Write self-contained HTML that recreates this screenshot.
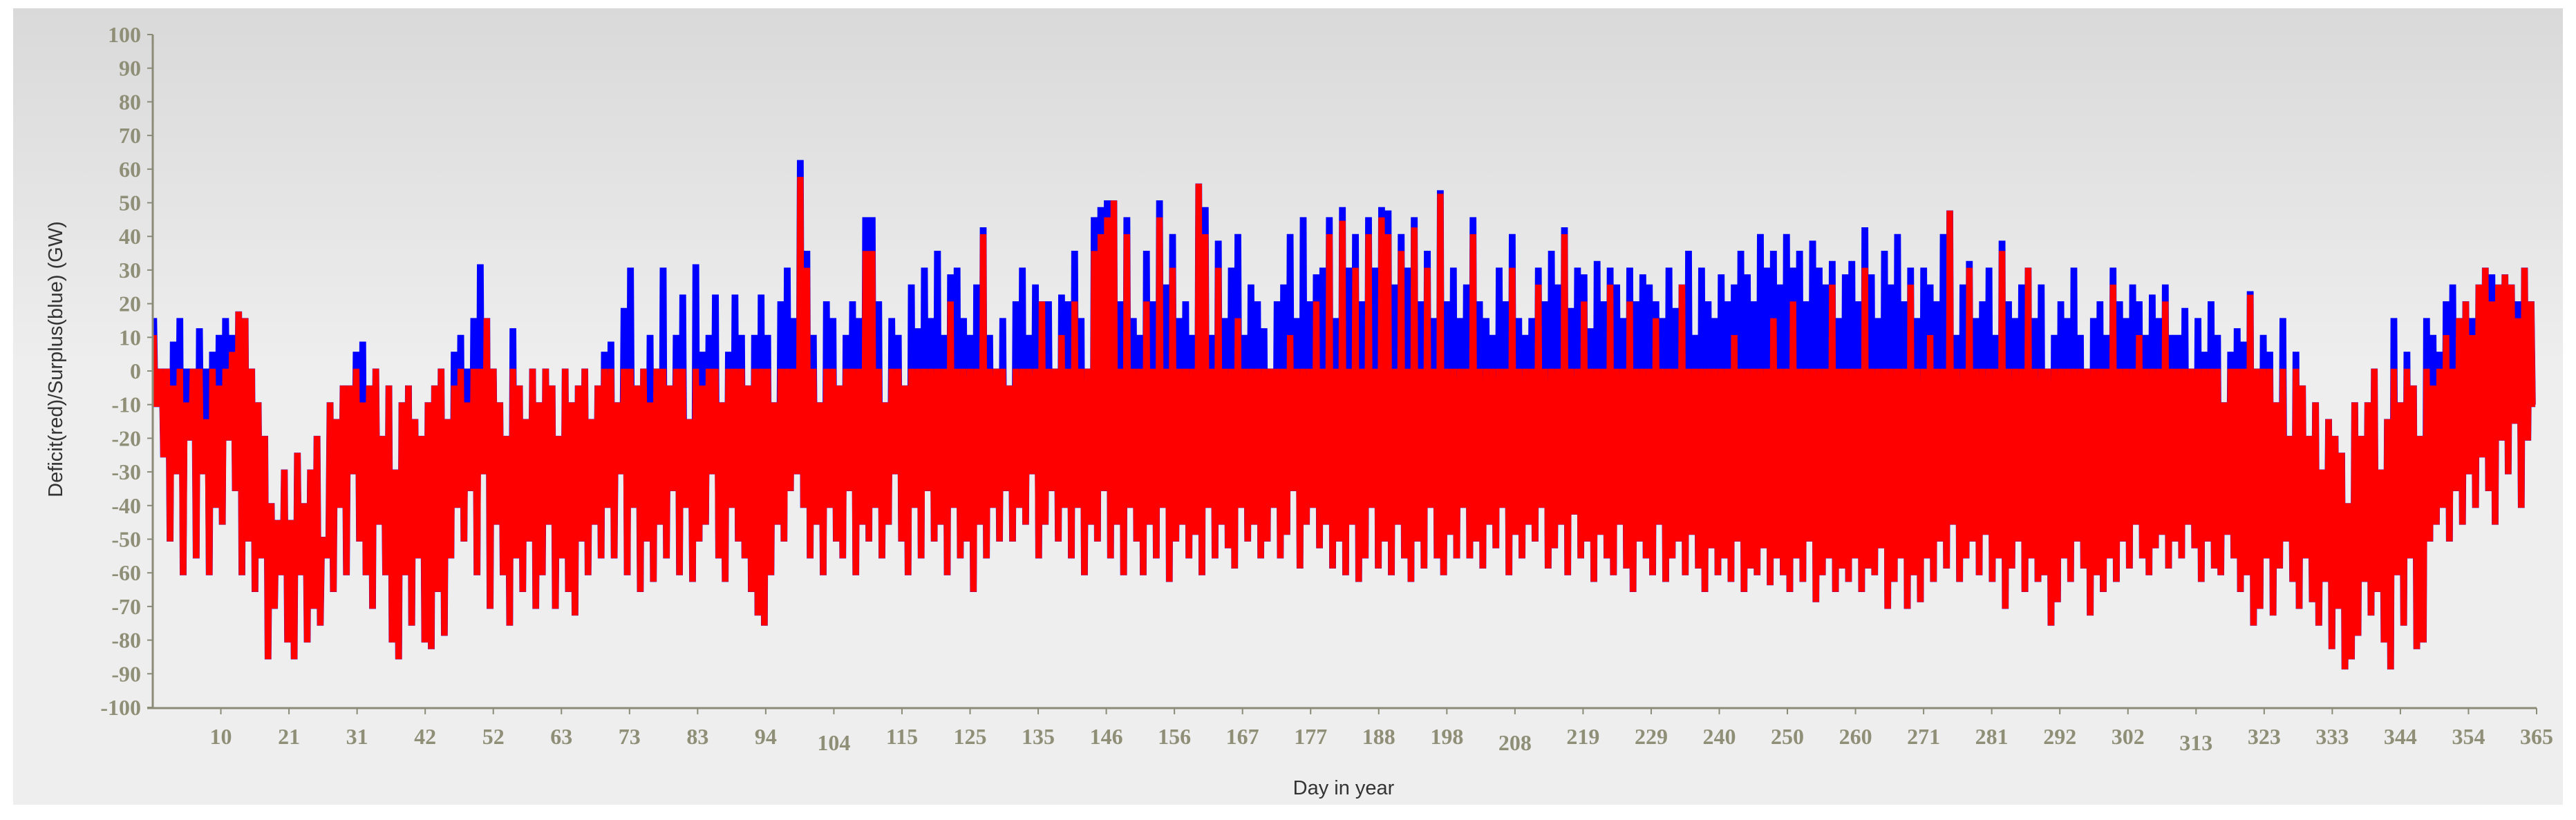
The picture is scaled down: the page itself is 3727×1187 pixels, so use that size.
<!DOCTYPE html>
<html><head><meta charset="utf-8"><style>
html,body{margin:0;padding:0;background:#fff;}
#wrap{position:relative;width:3727px;height:1187px;overflow:hidden;background:#fff;}
svg{position:absolute;left:0;top:0;}
</style></head><body>
<div id="wrap">
<svg id="chart" width="3727" height="1187" xmlns="http://www.w3.org/2000/svg">
<defs><linearGradient id="bg" x1="0" y1="0" x2="0" y2="1">
<stop offset="0" stop-color="#d9d9d9"/><stop offset="0.45" stop-color="#eeeeee"/><stop offset="1" stop-color="#eeeeee"/></linearGradient></defs>
<rect x="19" y="12" width="3689" height="1153" fill="url(#bg)"/>
<g id="series"></g>
<g id="axes"></g>
<text x="90" y="520" transform="rotate(-90 90 520)" text-anchor="middle" font-family="Liberation Sans, sans-serif" font-size="29" fill="#333">Deficit(red)/Surplus(blue) (GW)</text>
<text x="1944" y="1150" text-anchor="middle" font-family="Liberation Sans, sans-serif" font-size="29" fill="#333">Day in year</text>
</svg></div>
<script>
const xTickLabels=["10","21","31","42","52","63","73","83","94","104","115","125","135","146","156","167","177","188","198","208","219","229","240","250","260","271","281","292","302","313","323","333","344","354","365"];
const yTickValues=[100,90,80,70,60,50,40,30,20,10,0,-10,-20,-30,-40,-50,-60,-70,-80,-90,-100];
const dailyLow=[-10,-25,-50,-30,-60,-20,-55,-30,-60,-40,
-45,-20,-35,-60,-50,-65,-55,-85,-70,-60,
-80,-85,-60,-80,-70,-75,-55,-65,-40,-60,
-30,-50,-60,-70,-45,-60,-80,-85,-60,-75,
-55,-80,-82,-65,-78,-55,-40,-50,-35,-60,
-30,-70,-45,-60,-75,-55,-65,-50,-70,-60,
-45,-70,-55,-65,-72,-50,-60,-45,-55,-40,
-55,-30,-60,-40,-65,-50,-62,-45,-55,-35,
-60,-40,-62,-50,-45,-30,-55,-62,-40,-50,
-55,-65,-72,-75,-60,-45,-50,-35,-30,-40,
-55,-45,-60,-40,-50,-55,-35,-60,-45,-50,
-40,-55,-45,-30,-50,-60,-40,-55,-35,-50,
-45,-60,-40,-55,-50,-65,-45,-55,-40,-50,
-35,-50,-40,-45,-30,-55,-45,-35,-50,-40,
-55,-40,-60,-45,-50,-35,-55,-45,-60,-40,
-50,-60,-45,-55,-40,-62,-50,-45,-55,-48,
-60,-40,-55,-45,-52,-58,-40,-50,-45,-55,
-50,-40,-55,-48,-35,-58,-45,-40,-52,-45,
-58,-50,-60,-45,-62,-55,-40,-58,-50,-60,
-45,-55,-62,-50,-58,-40,-55,-60,-48,-55,
-40,-55,-50,-58,-45,-52,-40,-60,-48,-55,
-45,-50,-40,-58,-52,-45,-60,-42,-55,-50,
-62,-48,-55,-60,-45,-58,-65,-50,-55,-60,
-45,-62,-55,-50,-60,-48,-58,-65,-52,-60,
-55,-62,-50,-65,-58,-60,-52,-63,-55,-60,
-65,-55,-62,-50,-68,-60,-55,-65,-58,-62,
-55,-65,-58,-60,-52,-70,-62,-55,-70,-60,
-68,-55,-62,-50,-58,-45,-62,-55,-50,-60,
-48,-62,-55,-70,-58,-50,-65,-55,-62,-60,
-75,-68,-55,-62,-50,-58,-72,-60,-65,-55,
-62,-50,-58,-45,-55,-60,-52,-48,-58,-50,
-55,-45,-52,-62,-50,-58,-60,-48,-55,-65,
-60,-75,-70,-55,-72,-58,-50,-62,-70,-55,
-68,-75,-62,-82,-70,-88,-85,-78,-62,-72,
-65,-80,-88,-60,-75,-55,-82,-80,-50,-45,
-40,-50,-35,-45,-30,-40,-25,-35,-45,-20,
-30,-15,-40,-20,-10];
const redHigh=[10,0,0,-5,0,-10,0,0,-15,0,
-5,0,5,17,15,0,-10,-20,-40,-45,
-30,-45,-25,-40,-30,-20,-50,-10,-15,-5,
-5,0,-10,-5,0,-20,-5,-30,-10,-5,
-15,-20,-10,-5,0,-15,-5,0,-10,0,
0,15,0,-10,-20,0,-5,-15,0,-10,
0,-5,-20,0,-10,-5,0,-15,-5,0,
0,-10,0,0,-5,0,-10,0,0,-5,
0,0,-15,0,-5,0,0,-10,0,0,
0,-5,0,0,0,-10,0,0,0,57,
30,0,-10,0,0,-5,0,0,0,35,
35,0,-10,0,0,-5,0,0,0,0,
0,0,20,0,0,0,0,40,0,0,
0,-5,0,0,0,0,20,0,0,10,
0,20,0,0,35,40,45,50,0,40,
0,0,20,0,45,0,30,0,0,0,
55,40,0,30,0,0,15,0,0,0,
0,0,0,0,10,0,0,0,20,0,
40,0,44,0,30,0,40,0,45,40,
0,35,0,42,0,30,0,52,0,0,
0,0,40,0,0,0,0,0,30,0,
0,0,25,0,0,0,40,0,0,20,
0,0,0,25,0,0,20,0,0,0,
15,0,0,0,25,0,0,0,0,0,
0,0,10,0,0,0,0,0,15,0,
0,20,0,0,0,0,0,25,0,0,
0,0,30,0,0,0,0,0,0,25,
0,0,10,0,0,47,0,0,30,0,
0,0,0,35,0,0,0,30,0,0,
0,0,0,0,0,0,0,0,0,0,
25,0,0,0,10,0,0,0,20,0,
0,0,0,0,0,0,0,-10,0,0,
0,22,0,0,0,-10,0,-20,0,-5,
-20,-10,-30,-15,-20,-25,-40,-10,-20,-10,
0,-30,-15,0,-10,0,-5,-20,0,-5,
0,10,0,15,20,10,25,30,20,25,
28,25,15,30,20];
const blueHigh=[15,0,0,8,15,0,0,12,0,5,
10,15,10,17,15,0,-10,-20,-40,-45,
-30,-45,-25,-40,-30,-20,-50,-10,-15,-5,
-5,5,8,-5,0,-20,-5,-30,-10,-5,
-15,-20,-10,-5,0,-15,5,10,0,15,
31,15,0,-10,-20,12,-5,-15,0,-10,
0,-5,-20,0,-10,-5,0,-15,-5,5,
8,-10,18,30,-5,0,10,0,30,-5,
10,22,-15,31,5,10,22,-10,5,22,
10,-5,10,22,10,-10,20,30,15,62,
35,10,-10,20,15,-5,10,20,15,45,
45,20,-10,15,10,-5,25,12,30,15,
35,10,28,30,15,10,25,42,10,0,
15,-5,20,30,10,25,20,20,0,22,
20,35,15,0,45,48,50,50,20,45,
15,10,35,20,50,25,40,15,20,10,
55,48,10,38,15,30,40,10,25,20,
12,0,20,25,40,15,45,20,28,30,
45,15,48,30,40,20,45,30,48,47,
25,40,30,45,20,35,15,53,20,30,
15,25,45,20,15,10,30,20,40,15,
10,15,30,20,35,25,42,18,30,28,
12,32,20,30,25,15,30,20,28,25,
20,15,30,18,25,35,10,30,20,15,
28,20,25,35,28,20,40,30,35,25,
40,30,35,20,38,30,25,32,15,28,
32,20,42,28,15,35,25,40,20,30,
15,30,25,20,40,47,10,25,32,15,
20,30,10,38,20,15,25,30,15,25,
0,10,20,15,30,10,0,15,20,10,
30,20,15,25,20,10,22,15,25,10,
10,18,0,15,5,20,10,-10,5,12,
8,23,0,10,5,-10,15,-20,5,-5,
-20,-10,-30,-15,-20,-25,-40,-10,-20,-10,
0,-30,-15,15,-10,5,-5,-20,15,10,
5,20,25,15,20,15,25,30,28,25,
28,25,20,30,20];

const NS='http://www.w3.org/2000/svg';
const X0=221,X1=3670,Y0=537,PX=4.87,DAYS=365;
function xs(d){return X0+d*(X1-X0)/DAYS;}
function ys(v){return Y0-v*PX;}
const series=document.getElementById('series');
const axes=document.getElementById('axes');

function steps(hi,lo){
  let p='';
  for(let d=0;d<hi.length;d++){
    const h=ys(hi[d]).toFixed(1), l=ys(lo[d]).toFixed(1);
    p+=(d===0?'M':'L')+xs(d).toFixed(1)+','+h;
    p+='L'+xs(d+0.3).toFixed(1)+','+h;
    p+='L'+xs(d+0.5).toFixed(1)+','+l;
    p+='L'+xs(d+0.8).toFixed(1)+','+l;
  }
  return p;
}
const blue=document.createElementNS(NS,'path');
blue.setAttribute('d',steps(blueHigh,dailyLow));
blue.setAttribute('fill','none');blue.setAttribute('stroke','#0000ff');blue.setAttribute('stroke-width','7');blue.setAttribute('stroke-linejoin','miter');


series.appendChild(blue);
const red=document.createElementNS(NS,'path');
red.setAttribute('d',steps(redHigh,dailyLow));
red.setAttribute('fill','none');red.setAttribute('stroke','#ff0000');red.setAttribute('stroke-width','6.5');red.setAttribute('stroke-linejoin','miter');


series.appendChild(red);

const AX='#8b8b78';
const yl=document.createElementNS(NS,'line');
yl.setAttribute('x1',X0);yl.setAttribute('x2',X0);yl.setAttribute('y1',ys(100));yl.setAttribute('y2',ys(-100)+2);
yl.setAttribute('stroke',AX);yl.setAttribute('stroke-width','3');


axes.appendChild(yl);
const xl=document.createElementNS(NS,'line');
xl.setAttribute('x1',X0-8);xl.setAttribute('x2',X1);xl.setAttribute('y1',ys(-100)+1);xl.setAttribute('y2',ys(-100)+1);
xl.setAttribute('stroke',AX);xl.setAttribute('stroke-width','3');


axes.appendChild(xl);

yTickValues.forEach(v=>{
  const t=document.createElementNS(NS,'line');
  t.setAttribute('x1',X0-8);t.setAttribute('x2',X0);t.setAttribute('y1',ys(v));t.setAttribute('y2',ys(v));
  t.setAttribute('stroke',AX);t.setAttribute('stroke-width','2');
  
  
  axes.appendChild(t);
  const tx=document.createElementNS(NS,'text');
  tx.setAttribute('x',204);tx.setAttribute('y',ys(v)+11);tx.setAttribute('text-anchor','end');
  tx.setAttribute('font-family','Liberation Serif, serif');tx.setAttribute('font-weight','bold');
  tx.setAttribute('font-size','32');tx.setAttribute('fill','#8f8f78');
  tx.textContent=String(v);
  
  
  axes.appendChild(tx);
});
xTickLabels.forEach((lab,i)=>{
  const d=(i+1)*DAYS/xTickLabels.length;
  const t=document.createElementNS(NS,'line');
  t.setAttribute('x1',xs(d));t.setAttribute('x2',xs(d));t.setAttribute('y1',ys(-100)+1);t.setAttribute('y2',ys(-100)+10);
  t.setAttribute('stroke',AX);t.setAttribute('stroke-width','2');
  
  
  axes.appendChild(t);
  const low=(lab==='104'||lab==='208'||lab==='313');
  const tx=document.createElementNS(NS,'text');
  tx.setAttribute('x',xs(d));tx.setAttribute('y',low?1086:1077);tx.setAttribute('text-anchor','middle');
  tx.setAttribute('font-family','Liberation Serif, serif');tx.setAttribute('font-weight','bold');
  tx.setAttribute('font-size','32');tx.setAttribute('fill','#8f8f78');
  tx.textContent=lab;
  
  
  axes.appendChild(tx);
});
</script>
</body></html>
